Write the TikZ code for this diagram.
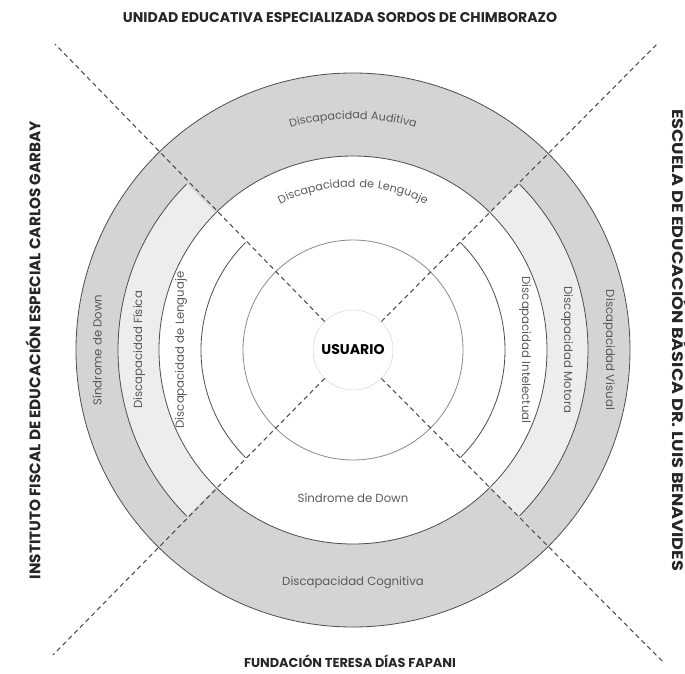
\documentclass[tikz,border=0pt]{standalone}
\usepackage{fontspec}
\usepackage{xcolor}
\newfontfamily\gothic{Poppins}
\newfontfamily\gothicsp{Poppins}[LetterSpace=5]
\newfontfamily\gothicwide{Poppins}[LetterSpace=9]
\usetikzlibrary{decorations.text}
\definecolor{bandgray}{HTML}{D4D4D4}
\definecolor{ringgray}{HTML}{EDEDED}
\definecolor{linegray}{HTML}{505050}
\definecolor{txtgray}{HTML}{5A5A5A}

\begin{document}
\begin{tikzpicture}[x=0.03cm, y=0.03cm,
		lbl/.style={font=\gothic\fontsize{10}{12}\selectfont, text=txtgray, inner sep=0pt},
		ttl/.style={font=\gothic\bfseries\fontsize{12}{14}\selectfont, text=black!85, inner sep=0pt},
		circ/.style={draw=linegray, line width=0.7pt},
		cut/.style={draw=black!70, dash pattern=on 4pt off 3pt, line width=0.9pt}]
		\useasboundingbox (-353,-323) rectangle (332,350);
		% bandas
		\foreach \a in {45,225}
		\fill[bandgray] (\a:194) arc[start angle=\a, delta angle=90, radius=194] -- ({\a+90}:277) arc[start angle={\a+90}, delta angle=-90, radius=277] -- cycle;
		\foreach \a in {-45,135}{
			\fill[bandgray] (\a:235) arc[start angle=\a, delta angle=90, radius=235] -- ({\a+90}:277) arc[start angle={\a+90}, delta angle=-90, radius=277] -- cycle;
			\fill[ringgray] (\a:194) arc[start angle=\a, delta angle=90, radius=194] -- ({\a+90}:235) arc[start angle={\a+90}, delta angle=-90, radius=235] -- cycle;
			\draw[circ] (\a:235) arc[start angle=\a, delta angle=90, radius=235];
			\draw[circ] (\a:152) arc[start angle=\a, delta angle=90, radius=152];
		}
		\draw[circ] (0,0) circle[radius=277];
		\draw[circ] (0,0) circle[radius=194];
		\draw[circ, draw=black!45] (0,0) circle[radius=110];
		\node[circle, draw=black!18, minimum size=2.4cm, inner sep=0pt, font=\gothic\bfseries\fontsize{12}{14}\selectfont] (usuario) at (0,0) {USUARIO};
		% textos curvos
		\path[decorate, decoration={text along path, text={|\gothicsp\fontsize{9.5}{12}\selectfont|Discapacidad Auditiva}, text align=center, text color=txtgray}]
		(115:231) arc[start angle=115, end angle=65, radius=231];
		\path[decorate, decoration={text along path, text={|\gothicwide\fontsize{9.5}{12}\selectfont|Discapacidad de Lenguaje}, text align=center, text color=txtgray}]
		(130:163) arc[start angle=130, end angle=50, radius=163];
		\node[lbl] (downbajo) at (270:148) {Síndrome de Down};
		\node[lbl] (cognitiva) at (270:233) {Discapacidad Cognitiva};
		\node[lbl, rotate=90] (downizq) at (180:256) {Síndrome de Down};
		\node[lbl, rotate=90] (fisica) at (180:214) {Discapacidad Física};
		\node[lbl, rotate=90] (lenguaje) at (180:172) {Discapacidad de Lenguaje};
		\node[lbl, rotate=-90] (visual) at (0:256) {Discapacidad Visual};
		\node[lbl, rotate=-90] (motora) at (0:214) {Discapacidad Motora};
		\node[lbl, rotate=-90] (intelectual) at (0:172) {Discapacidad Intelectual};
		% instituciones
		\node[ttl] (unidad) at (-13,332) {UNIDAD EDUCATIVA ESPECIALIZADA SORDOS DE CHIMBORAZO};
		\node[ttl, font=\gothic\bfseries\fontsize{11}{13}\selectfont] (fundacion) at (-3,-311) {FUNDACIÓN TERESA DÍAS FAPANI};
		\node[ttl, rotate=90, font=\gothic\bfseries\fontsize{13}{15}\selectfont] (instituto) at (-320,0) {INSTITUTO FISCAL DE EDUCACIÓN ESPECIAL CARLOS GARBAY};
		\node[ttl, rotate=-90, font=\gothic\bfseries\fontsize{13}{15}\selectfont] (escuela) at (327,10) {\scalebox{1.16}[1]{ESCUELA DE EDUCACIÓN BÁSICA DR. LUIS BENAVIDES}};
		% diagonales
		\coordinate (nw) at (-298,306);
		\coordinate (ne) at (304,306);
		\coordinate (sw) at (-300,-305);
		\coordinate (se) at (310,-312);
		\draw[cut] (usuario.135) -- (nw);
		\draw[cut] (usuario.45) -- (ne);
		\draw[cut] (usuario.225) -- (sw);
		\draw[cut] (usuario.-45) -- (se);
\end{tikzpicture}
\end{document}
